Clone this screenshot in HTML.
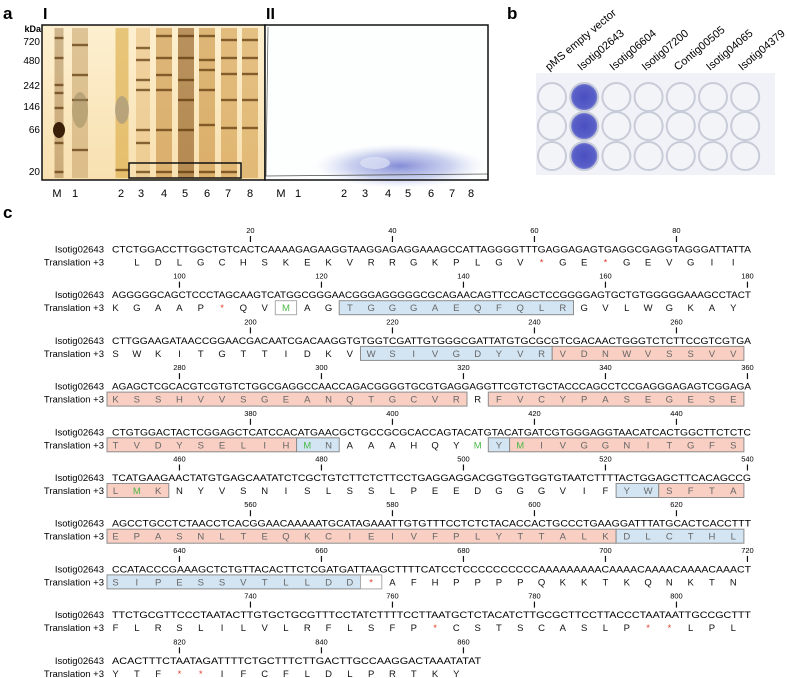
<!DOCTYPE html>
<html><head><meta charset="utf-8">
<style>
html,body{margin:0;padding:0;background:#fff;}
body{width:787px;height:678px;overflow:hidden;font-family:"Liberation Sans",sans-serif;}
svg{display:block;}
</style></head>
<body>
<svg id="fig" width="787" height="678" viewBox="0 0 787 678" xmlns="http://www.w3.org/2000/svg" font-family="Liberation Sans, sans-serif">
<defs>
  <linearGradient id="gelbg" x1="0" y1="0" x2="0" y2="1">
    <stop offset="0" stop-color="#fdf0d0"/><stop offset="1" stop-color="#f8e0b0"/>
  </linearGradient>
  <radialGradient id="blue" cx="0.5" cy="0.5" r="0.5">
    <stop offset="0" stop-color="#6f78d0" stop-opacity="0.85"/>
    <stop offset="0.6" stop-color="#9aa6e0" stop-opacity="0.5"/>
    <stop offset="1" stop-color="#c8d4f0" stop-opacity="0"/>
  </radialGradient>
  <radialGradient id="well" cx="0.5" cy="0.5" r="0.5">
    <stop offset="0" stop-color="#4a4fc0"/><stop offset="0.8" stop-color="#5a60c8"/><stop offset="1" stop-color="#8a90d8"/>
  </radialGradient>
</defs>

<!-- Panel a -->
<text x="3" y="19" font-size="17" font-weight="bold">a</text>
<text x="43" y="19" font-size="16" font-weight="bold">I</text>
<text x="266" y="19" font-size="16" font-weight="bold">II</text>
<g font-size="10" text-anchor="end">
  <text x="41" y="32" font-weight="bold" font-size="9">kDa</text>
  <text x="40" y="45">720</text><text x="40" y="64">480</text><text x="40" y="89">242</text>
  <text x="40" y="110">146</text><text x="40" y="133">66</text><text x="40" y="175">20</text>
</g>
<g id="gel1">
  <rect x="42" y="25" width="223" height="155" fill="url(#gelbg)"/>
</g>
<rect x="42" y="25" width="223" height="155" fill="none" stroke="#111" stroke-width="1.5"/>
<rect x="129" y="163" width="112" height="15" fill="none" stroke="#111" stroke-width="1.5"/>
<g>
  <rect x="265" y="25" width="223" height="155" fill="#fdfefe"/>
  <ellipse cx="400" cy="166" rx="85" ry="22" fill="url(#blue)"/>
  <ellipse cx="375" cy="163" rx="15" ry="6" fill="#dfe4f6" opacity="0.7"/>
  <line x1="265" y1="176" x2="488" y2="174" stroke="#555" stroke-width="0.8"/>
  <line x1="268" y1="27" x2="266" y2="176" stroke="#666" stroke-width="0.8"/>
</g>
<rect x="265" y="25" width="223" height="155" fill="none" stroke="#111" stroke-width="1.5"/>
<g font-size="11" text-anchor="middle">
  <text x="57" y="197">M</text><text x="75" y="197">1</text><text x="121" y="197">2</text><text x="141" y="197">3</text>
  <text x="164" y="197">4</text><text x="185" y="197">5</text><text x="207" y="197">6</text><text x="228" y="197">7</text><text x="250" y="197">8</text>
  <text x="281" y="197">M</text><text x="298" y="197">1</text><text x="344" y="197">2</text><text x="365" y="197">3</text>
  <text x="388" y="197">4</text><text x="408" y="197">5</text><text x="431" y="197">6</text><text x="452" y="197">7</text><text x="471" y="197">8</text>
</g>

<!-- Panel b -->
<text x="507" y="19" font-size="17" font-weight="bold">b</text>
<rect x="536" y="73" width="239" height="102" fill="#f1f2f7"/>
<g id="plate"></g>
<g id="plateLabels" font-size="11"></g>

<!-- Panel c -->
<text x="3" y="218" font-size="17" font-weight="bold">c</text>
<g id="seq" font-size="9.5"></g>
</svg>

<script>
const NS='http://www.w3.org/2000/svg';
function mk(tag,attrs,parent){const e=document.createElementNS(NS,tag);for(const k in attrs)e.setAttribute(k,attrs[k]);parent.appendChild(e);return e;}

// ---- gel I lanes ----
const laneX=[59,80,122,143,164,186,207,229,250];
const laneW=[9,16,13,14,16,16,16,16,16];
const laneColor=['#7a4a10','#c9a670','#d8a840','#e8c080','#c89040','#8a5212','#c8903c','#d09a48','#d4a050'];
const laneBands=[[38,58,85,93,108,130,143,172],[45,75,100,150],[170],[48,60,80,90,130,143,172],[36,58,75,90,130,172],[36,58,80,100,130,172],[36,60,70,90,125,172],[40,58,74,100,128,172],[40,58,74,100,128]];
const g1=document.getElementById('gel1');
laneX.forEach((x,i)=>{
  const r=mk('rect',{x:x-laneW[i]/2,y:28,width:laneW[i],height:150,fill:laneColor[i],opacity:i==0?0.35:0.6},g1);
  
  
  laneBands[i].forEach(y=>{
    const b=mk('rect',{x:x-laneW[i]/2,y:y-1.2,width:laneW[i],height:2.4,fill:'#5a3408',opacity:0.7},g1);
    
    
  });
});
mk('ellipse',{cx:59,cy:130,rx:6,ry:8,fill:'#3a2008'},g1);
mk('ellipse',{cx:122,cy:110,rx:7,ry:14,fill:'#9a9080',opacity:0.6},g1);
mk('ellipse',{cx:80,cy:110,rx:8,ry:18,fill:'#9a8a60',opacity:0.5},g1);

// ---- plate ----
const plateCols=['pMS empty vector','Isotig02643','Isotig06604','Isotig07200','Contig00505','Isotig04065','Isotig04379'];
const positive=[false,true,false,false,false,false,false];
const wellX0=552, wellDX=32.2, wellY=[97,126,156];
const plate=document.getElementById('plate');
const pl=document.getElementById('plateLabels');
plateCols.forEach((name,i)=>{
  const cx=wellX0+i*wellDX;
  wellY.forEach(cy=>{
    const c=mk('circle',{cx:cx,cy:cy,r:14,fill:positive[i]?'url(#well)':'#f3f4f8',stroke:'#c8ccd8','stroke-width':2},plate);
    
    
  });
  const t=mk('text',{x:cx-3,y:71,transform:`rotate(-40 ${cx-3} 71)`},pl);
  t.textContent=name;
  
  
});

// ---- sequence ----
const seqRows=[
'CTCTGGACCTTGGCTGTCACTCAAAAGAGAAGGTAAGGAGAGGAAAGCCATTAGGGGTTTGAGGAGAGTGAGGCGAGGTAGGGATTATTA',
'AGGGGGCAGCTCCCTAGCAAGTCATGGCGGGAACGGGAGGGGGCGCAGAACAGTTCCAGCTCCGGGGAGTGCTGTGGGGGAAAGCCTACT',
'CTTGGAAGATAACCGGAACGACAATCGACAAGGTGTGGTCGATTGTGGGCGATTATGTGCGCGTCGACAACTGGGTCTCTTCCGTCGTGA',
'AGAGCTCGCACGTCGTGTCTGGCGAGGCCAACCAGACGGGGTGCGTGAGGAGGTTCGTCTGCTACCCAGCCTCCGAGGGAGAGTCGGAGA',
'CTGTGGACTACTCGGAGCTCATCCACATGAACGCTGCCGCGCACCAGTACATGTACATGATCGTGGGAGGTAACATCACTGGCTTCTCTC',
'TCATGAAGAACTATGTGAGCAATATCTCGCTGTCTTCTCTTCCTGAGGAGGACGGTGGTGGTGTAATCTTTTACTGGAGCTTCACAGCCG',
'AGCCTGCCTCTAACCTCACGGAACAAAAATGCATAGAAATTGTGTTTCCTCTCTACACCACTGCCCTGAAGGATTTATGCACTCACCTTT',
'CCATACCCGAAAGCTCTGTTACACTTCTCGATGATTAAGCTTTTCATCCTCCCCCCCCCCAAAAAAAAACAAAACAAAACAAAACAAACT',
'TTCTGCGTTCCCTAATACTTGTGCTGCGTTTCCTATCTTTTCCTTAATGCTCTACATCTTGCGCTTCCTTACCCTAATAATTGCCGCTTT',
'ACACTTTCTAATAGATTTTCTGCTTTCTTGACTTGCCAAGGACTAAATATAT'];
const aaRows=[
'LDLGCHSKEKVRRGKPLGV*GE*GEVGII',
'KGAAP*QVMAGTGGGAEQFQLRGVLWGKAY',
'SWKITGTTIDKVWSIVGDYVRVDNWVSSVV',
'KSSHVVSGEANQTGCVRRFVCYPASEGESE',
'TVDYSELIHMNAAAHQYMYMIVGGNITGFS',
'LMKNYVSNISLSSLPEEDGGGVIFYWSFTA',
'EPASNLTEQKCIEIVFPLYTTALKDLCTHL',
'SIPESSVTLLDD*AFHPPPPQKKTKQNKTN',
'FLRSLILVLRFLSFP*CSTSCASLP**LPL',
'YTF**IFCFLDLPRTKY'];
const boxRows=[1,1,2,2,3,3,4,4,4,4,5,5,5,6,6,7,7];
const boxStart=[8,11,12,21,0,18,0,9,18,19,0,24,26,0,24,0,12];
const boxEnd=[8,21,20,29,16,29,8,10,18,29,2,25,29,23,29,11,12];
const boxType=['o','b','b','p','p','p','p','b','b','p','p','b','p','p','b','b','o'];
const greenM=[[1,8],[4,9],[4,17],[4,19],[5,1]];
const tickNums=[20,40,60,80,100,120,140,160,180,200,220,240,260,280,300,320,340,360,380,400,420,440,460,480,500,520,540,560,580,600,620,640,660,680,700,720,740,760,780,800,820,840,860];

const X0=112, W=7.1, Y0=249, DY=45.7, TY=13;
const ntX=n=>X0+(n-0.5)*W;
const rowY=r=>Y0+r*DY;
const aaPos=(r,j)=>{const k=(r==0?j:29+30*(r-1)+j);const c=4+3*k;return c-90*r;};
const sg=document.getElementById('seq');

boxRows.forEach((r,i)=>{
  const p1=aaPos(r,boxStart[i]), p2=aaPos(r,boxEnd[i]);
  const x1=Math.max(107,X0+(p1-2)*W), x2=X0+(p2+1)*W, y=rowY(r)+TY-7;
  const t=boxType[i];
  const b=mk('rect',{x:x1,y:y,width:x2-x1,height:14,fill:t=='b'?'#d3e5f3':t=='p'?'#f8cfc2':'none',stroke:t=='o'?'#aaa':'#8d8d8d','stroke-width':1},sg);
  
  
});

seqRows.forEach((s,r)=>{
  const y=rowY(r);
  const l1=mk('text',{x:104,y:y+3.5,'text-anchor':'end'},sg);l1.textContent='Isotig02643';
  
  
  const l2=mk('text',{x:104,y:y+TY+3.5,'text-anchor':'end'},sg);l2.textContent='Translation +3';
  
  
  const t=mk('text',{x:X0,y:y+3.5,textLength:s.length*W,lengthAdjust:'spacingAndGlyphs'},sg);
  t.textContent=s;
  
  
  aaRows[r].split('').forEach((a,j)=>{
    const isM=greenM.some(g=>g[0]==r&&g[1]==j);
    const at=mk('text',{x:ntX(aaPos(r,j)),y:y+TY+3.5,'text-anchor':'middle',fill:a=='*'?'#e0402a':isM?'#4cb848':(boxRows.some((br,bi)=>br==r&&j>=boxStart[bi]&&j<=boxEnd[bi]&&boxType[bi]!='o')?'#666':'#111')},sg);
    at.textContent=a;
    
    
  });
});
tickNums.forEach(n=>{
  const r=Math.floor((n-1)/90), p=n-90*r;
  if(r>=seqRows.length||p>seqRows[r].length)return;
  const x=ntX(p), y=rowY(r);
  const ln=mk('line',{x1:x,y1:y-13,x2:x,y2:y-7,stroke:'#111','stroke-width':1.2},sg);
  
  
  const lt=mk('text',{x:x,y:y-16,'text-anchor':'middle','font-size':7.5},sg);
  lt.textContent=n;
  
  
});
</script>
</body></html>
